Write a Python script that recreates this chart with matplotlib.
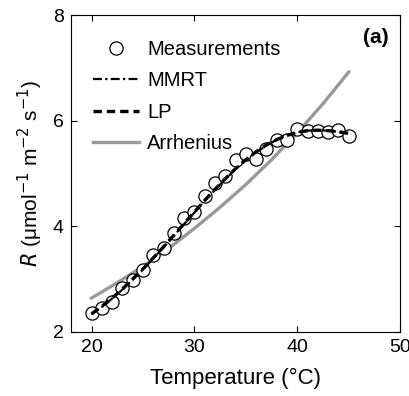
import numpy as np
import matplotlib.pyplot as plt

plt.rcParams['font.family'] = ['Liberation Sans', 'DejaVu Sans']

# measurements
temp = [20, 21, 22, 23, 24, 25, 26, 27, 28, 29, 30, 31, 32, 33, 34, 35, 36,
        37, 38, 39, 40, 41, 42, 43, 44, 45]
rate = [2.36, 2.45, 2.56, 2.83, 2.99, 3.17, 3.45, 3.58, 3.88, 4.15, 4.27, 4.58,
        4.82, 4.96, 5.25, 5.36, 5.27, 5.47, 5.63, 5.63, 5.84, 5.80, 5.80, 5.79,
        5.83, 5.71]

# model curves
fit_t = [20, 21, 22, 23, 24, 25, 26, 27, 28, 29, 30, 31, 32, 33, 34, 35, 36,
         37, 38, 39, 40, 41, 42, 43, 44, 45]
mmrt = [2.33, 2.47, 2.63, 2.80, 2.99, 3.18, 3.39, 3.60, 3.82, 4.04, 4.26, 4.48,
        4.69, 4.89, 5.08, 5.25, 5.40, 5.53, 5.64, 5.72, 5.78, 5.81, 5.82, 5.81,
        5.79, 5.75]
lp = [2.34, 2.48, 2.64, 2.81, 3.00, 3.19, 3.40, 3.61, 3.83, 4.05, 4.27, 4.49,
      4.70, 4.90, 5.09, 5.26, 5.41, 5.54, 5.64, 5.72, 5.78, 5.81, 5.82, 5.81,
      5.79, 5.76]
arr_t = [20, 22.5, 25, 27.5, 30, 32.5, 35, 37.5, 40, 42.5, 45]
arr = [2.64, 2.93, 3.24, 3.58, 3.96, 4.36, 4.79, 5.26, 5.77, 6.32, 6.92]

fig = plt.figure(figsize=(4.1, 3.96), dpi=100)
ax = fig.add_axes([0.173, 0.162, 0.803, 0.800])

ax.plot(temp, rate, 'o', mfc='white', mec='black', ms=9.5, mew=0.9,
        label='Measurements', zorder=2)
ax.plot(fit_t, mmrt, color='black', lw=1.6, linestyle=(0, (4, 1.5, 1, 1.5)),
        label='MMRT', zorder=3)
ax.plot(fit_t, lp, color='black', lw=2.4, linestyle=(0, (2.5, 1.5)),
        label='LP', zorder=3)
ax.plot(arr_t, arr, color='#999999', lw=2.4, label='Arrhenius', zorder=1)

ax.set_xlim(18, 50)
ax.set_ylim(2, 8)
ax.set_xticks([20, 30, 40, 50])
ax.set_yticks([2, 4, 6, 8])
ax.tick_params(direction='in', top=True, right=True, labelsize=14, length=4,
               pad=5)
for s in ax.spines.values():
    s.set_linewidth(0.8)

ax.set_xlabel('Temperature (°C)', fontsize=16, labelpad=9)
ax.set_ylabel(r'$R$ (μmol$^{-1}$ m$^{-2}$ s$^{-1}$)', fontsize=15, labelpad=6)
ax.text(0.964, 0.959, '(a)', transform=ax.transAxes, ha='right', va='top',
        fontsize=15, fontweight='bold')

ax.legend(loc='upper left', frameon=False, fontsize=14.5, handlelength=2.3,
          labelspacing=0.6, handletextpad=0.4, borderaxespad=0, borderpad=0,
          bbox_to_anchor=(0.067, 0.92))

fig.savefig('out.png', dpi=100)
